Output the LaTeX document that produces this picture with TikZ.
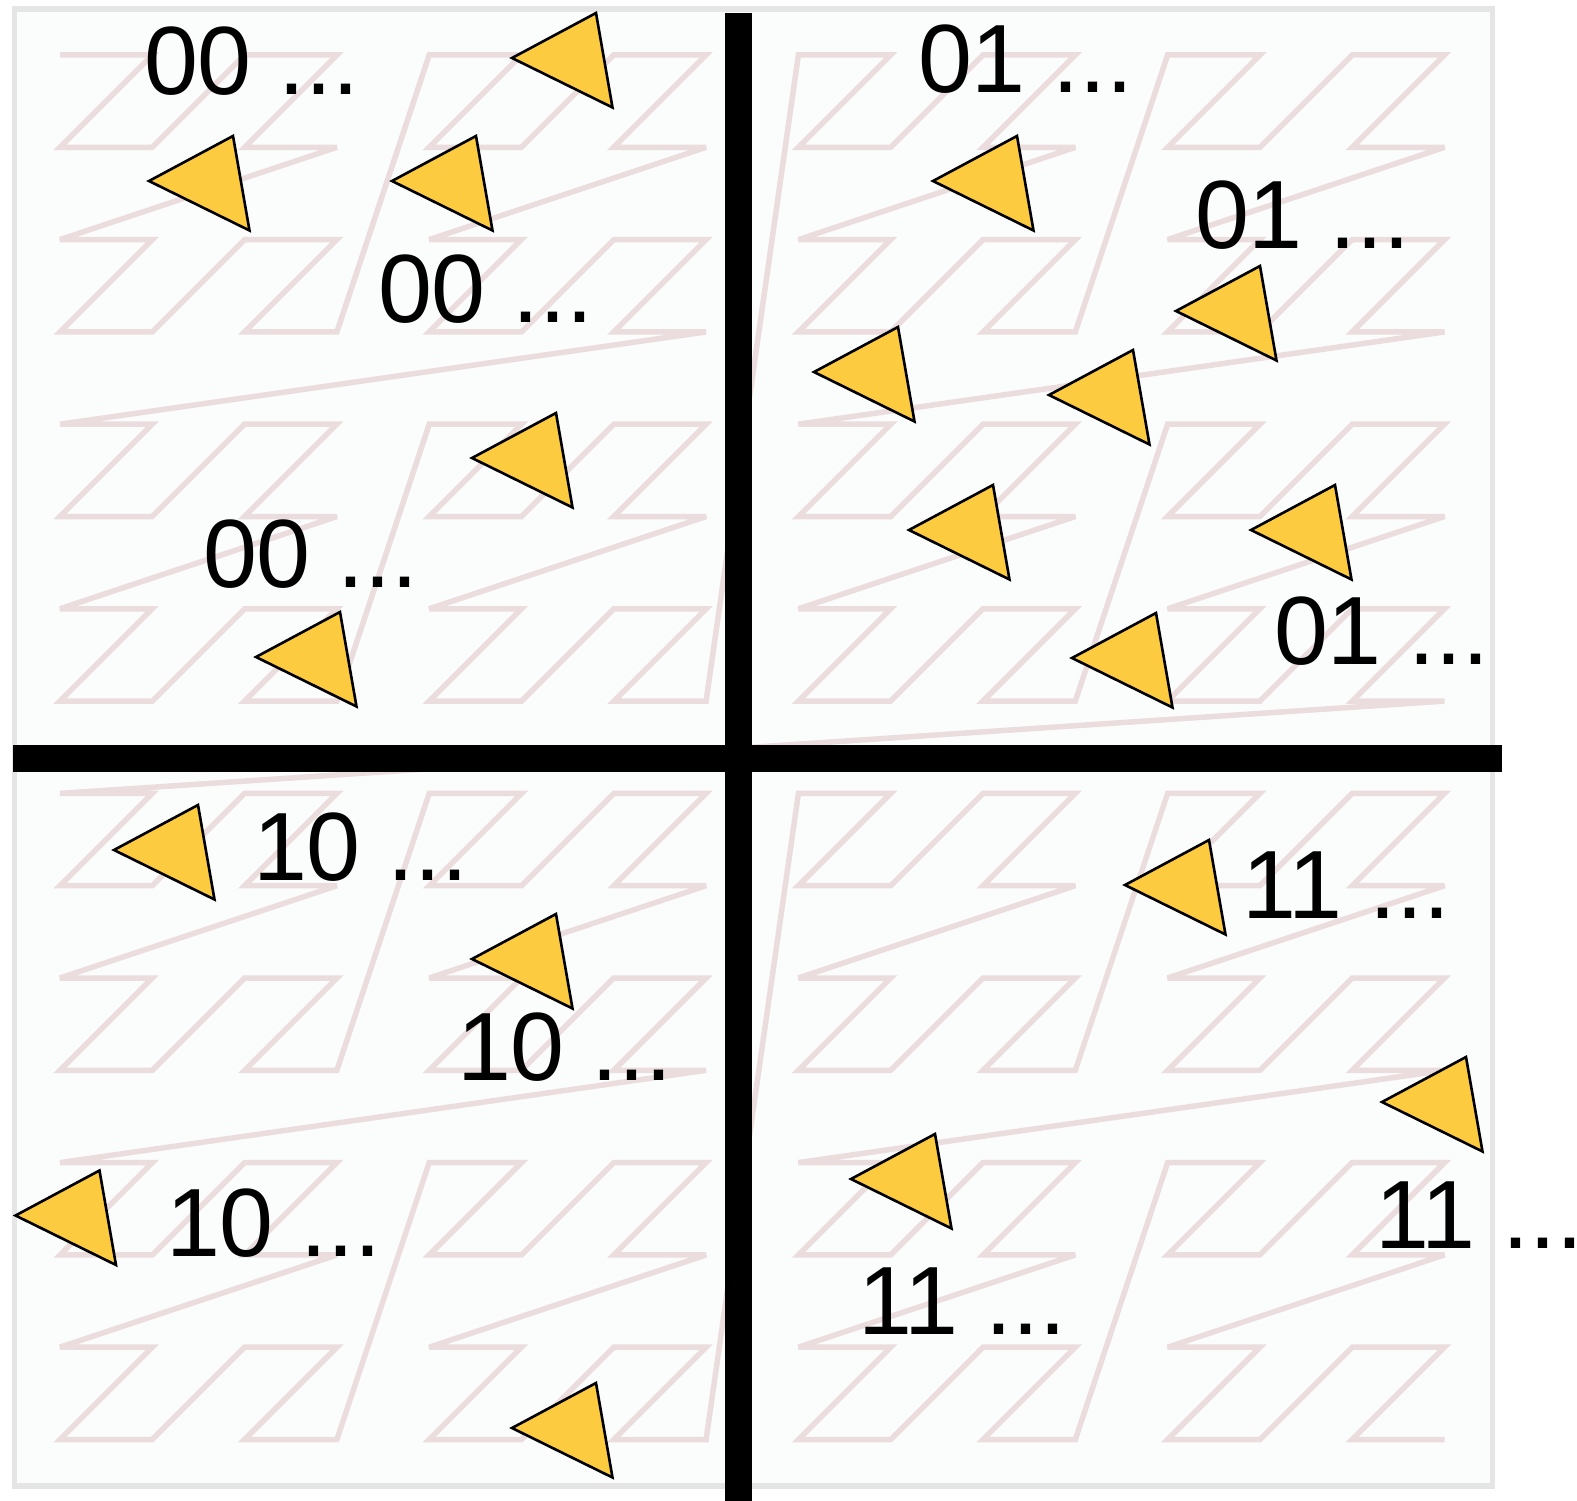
\documentclass[tikz,border=0pt]{standalone}
\usepackage{fontspec}
\setmainfont{Liberation Sans}
\definecolor{zpink}{RGB}{235,221,221}
\definecolor{tyellow}{RGB}{252,203,64}
\definecolor{framegray}{RGB}{229,229,229}
\definecolor{bgfill}{RGB}{251,253,253}
\begin{document}
\begin{tikzpicture}[x=1pt,y=-1pt,
  zcurve/.style={draw=zpink,line width=5.5pt,miter limit=4},
  divider/.style={draw=black,line width=27pt},
  tri/.style={draw=black,fill=tyellow,line width=2.6pt,line join=miter},
  lbl/.style={anchor=base west,inner sep=0pt,outer sep=0pt,font=\fontsize{97}{97}\selectfont,text=black},
  frame/.style={draw=framegray,fill=bgfill,line width=5.5pt}]
\useasboundingbox (0,0) rectangle (1577,1501);
\fill[white] (0,0) rectangle (1577,1501);
% frame
\coordinate (fa) at (14.5,9);
\coordinate (fb) at (1492.5,1486);
\path[frame] (fa) rectangle (fb);
% Z-order curve
\foreach \k in {0,...,255} {
  \pgfmathtruncatemacro{\ix}{mod(\k,2)+2*mod(floor(\k/4),2)+4*mod(floor(\k/16),2)+8*mod(floor(\k/64),2)}
  \pgfmathtruncatemacro{\iy}{mod(floor(\k/2),2)+2*mod(floor(\k/8),2)+4*mod(floor(\k/32),2)+8*mod(floor(\k/128),2)}
  \coordinate (z\k) at ({60+92.3*\ix},{55+92.3*\iy});
}
\draw[zcurve] (z0) \foreach \k in {1,...,255} { -- (z\k) };
% dividers
\coordinate (hl) at (13,758);
\coordinate (hr) at (1502,758);
\coordinate (vt) at (738.5,13);
\coordinate (vb) at (738.5,1501);
\draw[divider] (hl) -- (hr);
\draw[divider] (vt) -- (vb);
% triangles (tip positions)
\foreach \n/\x/\y in {1/512/58, 2/149/181, 3/392/181, 4/472/458, 5/256/657,
  6/933/181, 7/1176/311, 8/814/372, 9/1049/395, 10/909/530, 11/1251/530, 12/1072/658,
  13/114/850, 14/472/959, 15/15.5/1215.5, 16/512/1428,
  17/1125/885, 18/1382/1102, 19/851/1179} {
  \coordinate (t\n) at (\x,\y);
  \draw[tri] (t\n) -- ++(84,-45) -- ++(16.5,94.5) -- cycle;
}
% labels
\node[lbl] (l1) at (144,95) {00 ...};
\node[lbl] (l2) at (378,322) {00 ...};
\node[lbl] (l3) at (203,587) {00 ...};
\node[lbl] (l4) at (918,93) {01 ...};
\node[lbl] (l5) at (1195,248) {01 ...};
\node[lbl] (l6) at (1274,664) {01 ...};
\node[lbl] (l7) at (253,880) {10 ...};
\node[lbl] (l8) at (457,1080) {10 ...};
\node[lbl] (l9) at (166,1256) {10 ...};
\node[lbl] (l10) at (1242,918) {11 ...};
\node[lbl] (l11) at (1375,1248) {11 ...};
\node[lbl] (l12) at (858,1334) {11 ...};
\end{tikzpicture}
\end{document}
